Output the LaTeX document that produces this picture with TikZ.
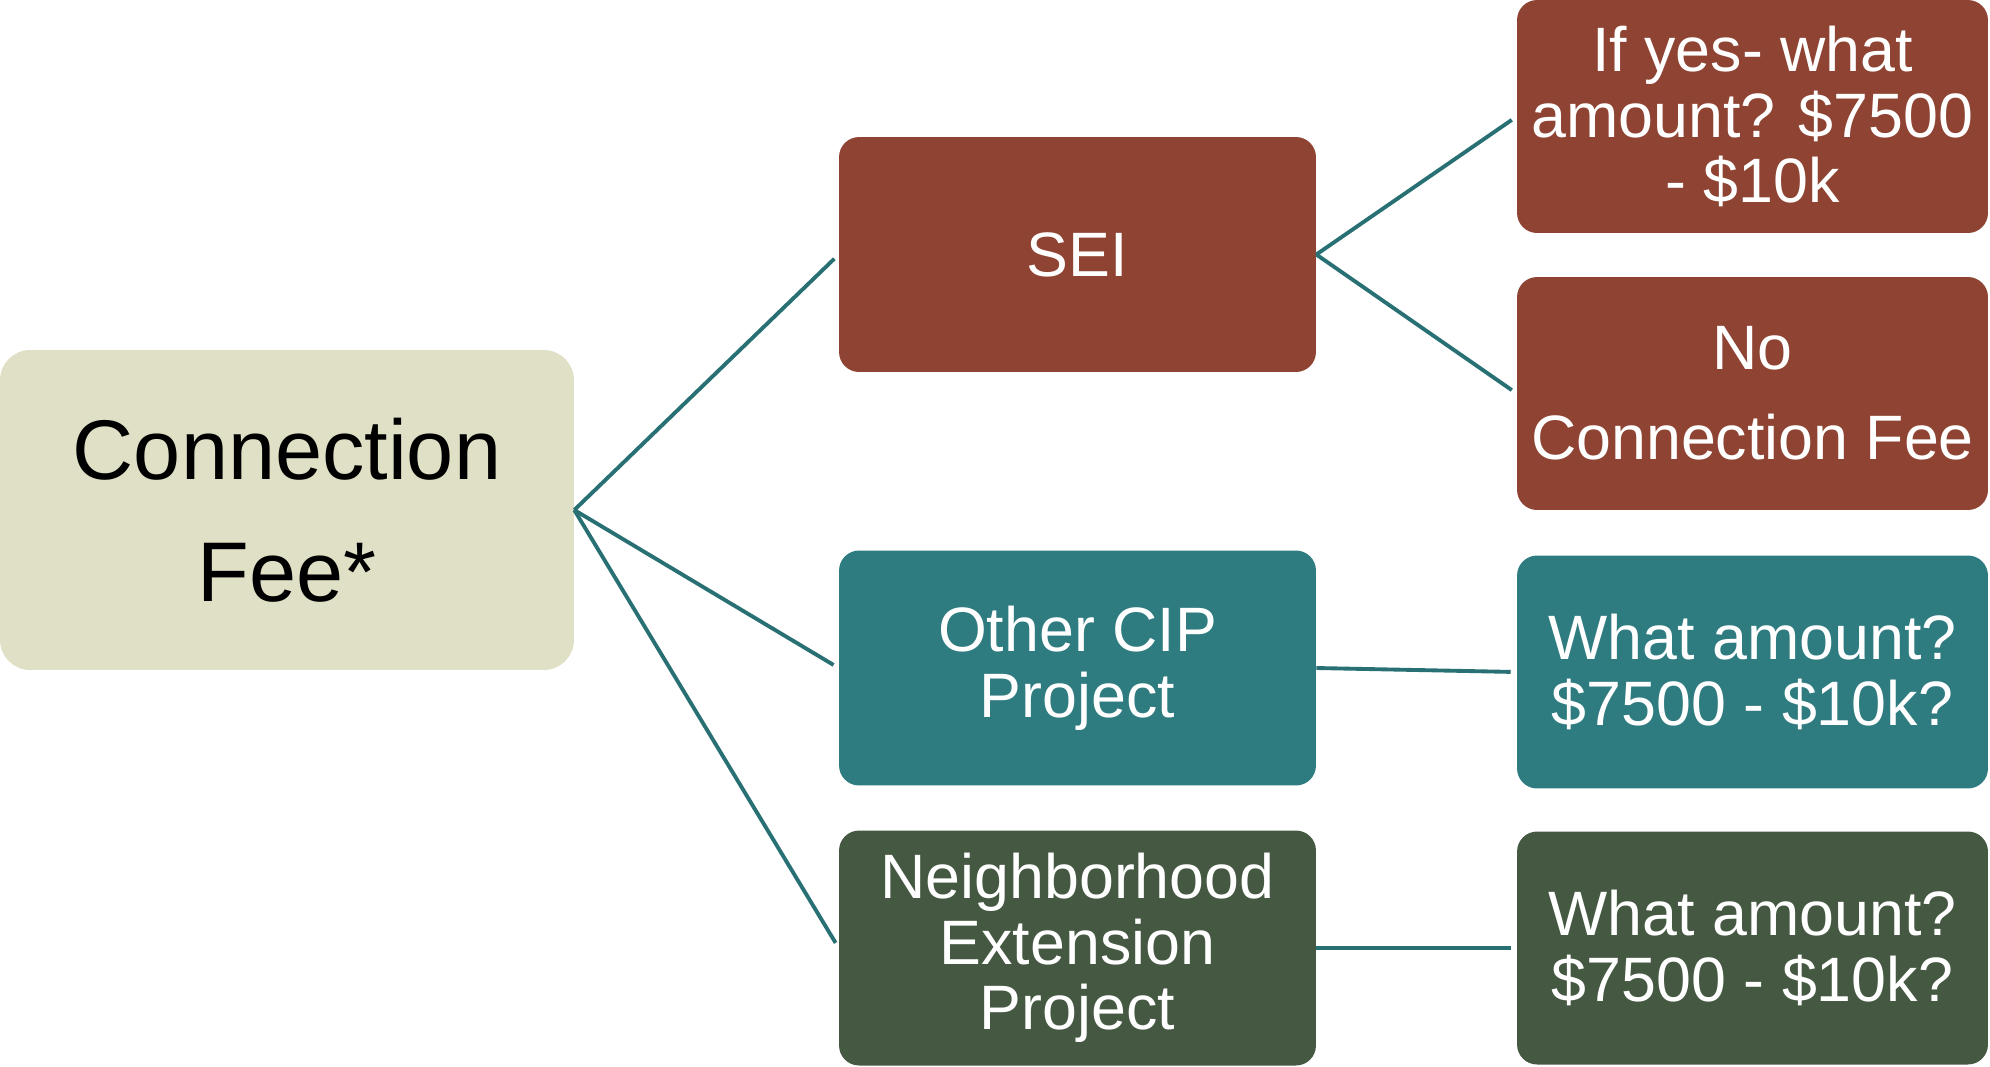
\documentclass[tikz,border=0pt]{standalone}
\usepackage{fontspec}
\setmainfont{Liberation Sans}
\usepackage{xcolor}
\definecolor{FeeRoot}{RGB}{224,224,198}
\definecolor{FeeBrown}{RGB}{142,67,51}
\definecolor{FeeTeal}{RGB}{46,123,128}
\definecolor{FeeGreen}{RGB}{69,88,66}
\definecolor{FeeLine}{RGB}{40,112,116}
\usepackage{tikz}
\usetikzlibrary{positioning}

\tikzset{
	box/.style={rounded corners=0.4cm, align=center, text=white, inner sep=0pt,
		font=\fontsize{35.7}{37.4}\selectfont},
	midbox/.style={box, minimum width=9.54cm, minimum height=4.7cm},
	endbox/.style={box, minimum width=9.42cm, minimum height=4.66cm},
	link/.style={draw=FeeLine, line width=2.2pt, shorten >=0.12cm}
}

\begin{document}
\begin{tikzpicture}[x=0.02cm, y=-0.02cm]
	\useasboundingbox (0,0) rectangle (1990,1066);
	\node[box, fill=FeeRoot, text=black, rounded corners=0.6cm, minimum width=11.48cm, minimum height=6.4cm,
		font=\fontsize{48.2}{69.7}\selectfont] (root) at (287,510) {Connection\\Fee*};
	\node[midbox, fill=FeeBrown] (sei) at (1077.5,254.5) {SEI};
	\node[midbox, fill=FeeTeal]  (cip) at (1077.5,668) {Other CIP\\Project};
	\node[midbox, fill=FeeGreen] (nbh) at (1077.5,948) {Neighborhood\\Extension\\Project};
	\node[endbox, fill=FeeBrown] (yes)    at (1752.5,116.5) {If yes- what\\amount? \$7500\\- \$10k};
	\node[endbox, fill=FeeBrown] (nofee)  at (1752.5,393.5) {No\\[14pt]Connection Fee};
	\node[endbox, fill=FeeTeal]  (cipamt) at (1752.5,672) {What amount?\\\$7500 - \$10k?};
	\node[endbox, fill=FeeGreen] (nbhamt) at (1752.5,948) {What amount?\\\$7500 - \$10k?};
	\draw[link] (root.east) -- (sei.west);
	\draw[link] (root.east) -- (cip.west);
	\draw[link] (root.east) -- (nbh.west);
	\draw[link] (sei.east) -- (yes.west);
	\draw[link] (sei.east) -- (nofee.west);
	\draw[link] (cip.east) -- (cipamt.west);
	\draw[link] (nbh.east) -- (nbhamt.west);
\end{tikzpicture}
\end{document}
